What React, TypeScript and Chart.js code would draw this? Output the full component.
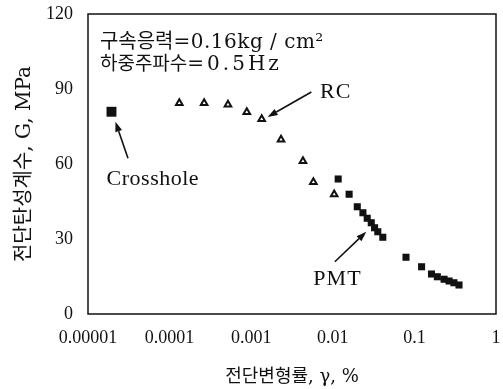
import React, { useEffect, useRef } from "react";
import { Chart, registerables } from "chart.js";

Chart.register(...registerables);

// ---- data ----
const xTickValues = [1e-5, 1e-4, 1e-3, 1e-2, 1e-1, 1];
const xTickLabels = ["0.00001", "0.0001", "0.001", "0.01", "0.1", "1"];
const yTickValues = [0, 30, 60, 90, 120];

const crossholeStrain = [1.94e-5];
const crossholeG = [80.9];

const rcStrain = [1.315e-4, 2.65e-4, 5.19e-4, 8.83e-4, 1.345e-3, 2.32e-3, 4.31e-3, 5.78e-3, 1.04e-2];
const rcG = [84.4, 84.4, 83.8, 80.8, 78.0, 69.8, 61.2, 52.8, 47.9];

const pmtStrain = [
  0.01164, 0.01585, 0.01995, 0.0234, 0.0264, 0.0296, 0.0325, 0.0356, 0.041,
  0.0789, 0.1225, 0.162, 0.191, 0.231, 0.266, 0.305, 0.352,
];
const pmtG = [
  54.0, 47.9, 42.9, 40.5, 38.3, 36.5, 34.5, 32.9, 30.7,
  22.7, 18.9, 16.0, 14.9, 13.9, 13.2, 12.5, 11.6,
];

const xTitle = "전단변형률, γ, %";
const yTitle = "전단탄성계수, G, MPa";
const conditionNames = ["구속응력", "하중주파수"];
const conditionValues = ["=0.16kg / cm²", "=0.5Hz"];
const seriesLabels = ["Crosshole", "RC", "PMT"];

// annotation anchors in data units (strain %, G MPa)
const conditionAnchors = [
  { x: 1.4e-5, y: 106.6 },
  { x: 1.4e-5, y: 97.6 },
];
const labelAnchors = [
  { x: 1.69e-5, y: 51.6 }, // Crosshole
  { x: 6.97e-3, y: 86.4 }, // RC
  { x: 5.78e-3, y: 11.6 }, // PMT
];
const arrows = [
  { from: [3.09e-5, 62.3], to: [2.17e-5, 76.9] }, // Crosshole
  { from: [5.46e-3, 88.8], to: [1.59e-3, 78.8] }, // RC
  { from: [1.06e-2, 20.9], to: [2.57e-2, 32.9] }, // PMT
];

const SERIF = "'Liberation Serif', 'Noto Sans CJK KR', serif";
const WIDE_SERIF = "'DejaVu Serif', 'Noto Sans CJK KR', serif";
const KO = "'Noto Sans CJK KR', sans-serif";
const INK = "#111111";

function drawArrow(ctx: CanvasRenderingContext2D, x1: number, y1: number, x2: number, y2: number) {
  const ang = Math.atan2(y2 - y1, x2 - x1);
  const headLen = 10;
  const headHalf = 3.5;
  const bx = x2 - headLen * Math.cos(ang);
  const by = y2 - headLen * Math.sin(ang);
  ctx.beginPath();
  ctx.moveTo(x1, y1);
  ctx.lineTo(bx, by);
  ctx.lineWidth = 1.6;
  ctx.strokeStyle = INK;
  ctx.stroke();
  ctx.beginPath();
  ctx.moveTo(x2, y2);
  ctx.lineTo(bx + headHalf * Math.sin(ang), by - headHalf * Math.cos(ang));
  ctx.lineTo(bx - headHalf * Math.sin(ang), by + headHalf * Math.cos(ang));
  ctx.closePath();
  ctx.fillStyle = INK;
  ctx.fill();
}

function drawSegments(
  ctx: CanvasRenderingContext2D,
  segs: { text: string; font: string; spacing: number }[],
  x: number,
  y: number
) {
  let cx = x;
  for (const s of segs) {
    ctx.font = s.font;
    (ctx as any).letterSpacing = s.spacing + "px";
    ctx.fillText(s.text, cx, y);
    cx += ctx.measureText(s.text).width;
  }
  (ctx as any).letterSpacing = "0px";
}

const overlayPlugin = {
  id: "overlay",
  beforeDatasetsDraw(chart: any) {
    const { ctx, chartArea } = chart;
    ctx.save();
    ctx.strokeStyle = INK;
    ctx.lineWidth = 1.5;
    ctx.strokeRect(chartArea.left, chartArea.top, chartArea.right - chartArea.left, chartArea.bottom - chartArea.top);
    ctx.restore();
  },
  afterDatasetsDraw(chart: any) {
    const { ctx, scales } = chart;
    const xs = scales.x;
    const ys = scales.y;
    ctx.save();
    for (const a of arrows) {
      drawArrow(
        ctx,
        xs.getPixelForValue(a.from[0]),
        ys.getPixelForValue(a.from[1]),
        xs.getPixelForValue(a.to[0]),
        ys.getPixelForValue(a.to[1])
      );
    }
    ctx.fillStyle = INK;
    ctx.textBaseline = "alphabetic";
    ctx.textAlign = "left";
    const nameSizes = [20, 19];
    const valueStyles = [
      { size: 20, spacing: 0.5 },
      { size: 20, spacing: 3 },
    ];
    conditionNames.forEach((name, i) => {
      const p = conditionAnchors[i];
      drawSegments(
        ctx,
        [
          { text: name, font: `${nameSizes[i]}px ${KO}`, spacing: 0 },
          { text: conditionValues[i], font: `${valueStyles[i].size}px ${WIDE_SERIF}`, spacing: valueStyles[i].spacing },
        ],
        xs.getPixelForValue(p.x),
        ys.getPixelForValue(p.y)
      );
    });
    const labelSpacing = [0.5, 1, 1];
    seriesLabels.forEach((t, i) => {
      const p = labelAnchors[i];
      drawSegments(
        ctx,
        [{ text: t, font: `22px ${SERIF}`, spacing: labelSpacing[i] }],
        xs.getPixelForValue(p.x),
        ys.getPixelForValue(p.y)
      );
    });
    ctx.restore();
  },
};

export default function App() {
  const canvasRef = useRef<HTMLCanvasElement | null>(null);

  useEffect(() => {
    const canvas = canvasRef.current;
    if (!canvas) return;
    const toPts = (xs: number[], ys: number[]) => xs.map((x, i) => ({ x, y: ys[i] }));
    const chart = new Chart(canvas, {
      type: "scatter",
      data: {
        datasets: [
          {
            label: seriesLabels[0],
            data: toPts(crossholeStrain, crossholeG),
            pointStyle: "rect",
            pointRadius: 7,
            backgroundColor: INK,
            borderColor: INK,
            borderWidth: 0,
          },
          {
            label: seriesLabels[1],
            data: toPts(rcStrain, rcG),
            pointStyle: "triangle",
            pointRadius: 3.8,
            backgroundColor: "#ffffff",
            borderColor: INK,
            borderWidth: 2,
          },
          {
            label: seriesLabels[2],
            data: toPts(pmtStrain, pmtG),
            pointStyle: "rect",
            pointRadius: 5,
            backgroundColor: INK,
            borderColor: INK,
            borderWidth: 0,
          },
        ],
      },
      options: {
        responsive: false,
        animation: false,
        devicePixelRatio: 1,
        layout: { padding: { top: 14, right: 4, left: 0, bottom: 0 } },
        plugins: {
          legend: { display: false },
          tooltip: { enabled: false },
        },
        scales: {
          x: {
            type: "logarithmic",
            min: xTickValues[0],
            max: xTickValues[xTickValues.length - 1],
            afterBuildTicks: (s: any) => {
              s.ticks = xTickValues.map((v) => ({ value: v }));
            },
            afterFit: (s: any) => {
              s.height = 75;
              s.paddingLeft = 0;
              s.paddingRight = 0;
            },
            grid: { display: false, drawTicks: false },
            border: { display: false },
            ticks: {
              autoSkip: false,
              maxRotation: 0,
              padding: 13,
              color: INK,
              font: { family: SERIF, size: 18 },
              callback: (_v: any, i: number) => xTickLabels[i],
            },
            title: {
              display: true,
              text: xTitle,
              color: INK,
              font: { family: WIDE_SERIF, size: 18 },
              padding: { top: 0, bottom: 1 },
            },
          },
          y: {
            type: "linear",
            min: yTickValues[0],
            max: yTickValues[yTickValues.length - 1],
            afterBuildTicks: (s: any) => {
              s.ticks = yTickValues.map((v) => ({ value: v }));
            },
            afterFit: (s: any) => {
              s.width = 88;
              s.paddingTop = 0;
              s.paddingBottom = 0;
            },
            grid: { display: false, drawTicks: false },
            border: { display: false },
            ticks: {
              padding: 15,
              color: INK,
              font: { family: SERIF, size: 18 },
              callback: (v: any) => String(v),
            },
            title: {
              display: true,
              text: yTitle,
              color: INK,
              font: { family: WIDE_SERIF, size: 20 },
              padding: { top: 13, bottom: 0 },
            },
          },
        },
      },
      plugins: [overlayPlugin],
    } as any);
    return () => chart.destroy();
  }, []);

  return (
    <div style={{ position: "absolute", left: 0, top: 0, width: 503, height: 389, background: "#fff" }}>
      <canvas ref={canvasRef} width={503} height={389} style={{ display: "block" }} />
    </div>
  );
}
